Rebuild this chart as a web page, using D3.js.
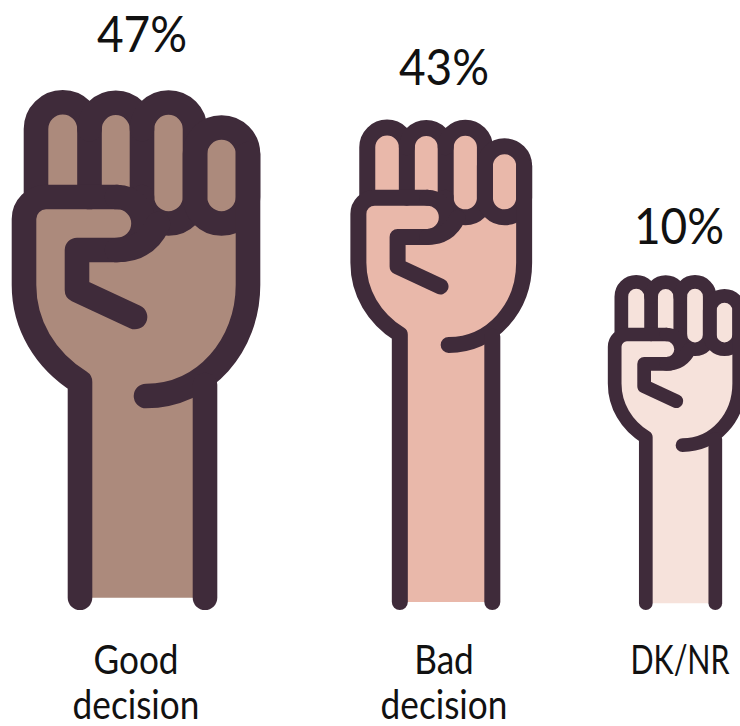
<!DOCTYPE html>
<html>
<head>
<meta charset="utf-8">
<script src="https://cdn.jsdelivr.net/npm/d3@7"></script>
<style>
  html, body { margin: 0; padding: 0; background: #fff; }
  svg { display: block; }
  text { font-family: Lato, "Open Sans", sans-serif; fill: #111; }
</style>
</head>
<body>
<div id="chart"></div>
<script>
// values
const categories = ["Good decision", "Bad decision", "DK/NR"];
const shares = [47, 43, 10];
const shareLabels = ["47%", "43%", "10%"];
const labelLines = [["Good", "decision"], ["Bad", "decision"], ["DK/NR"]];

const width = 740, height = 726;
const ink = "#3f2b3a";
const armBottom = 610; // outer end of the round caps

const svg = d3.select("#chart").append("svg")
  .attr("width", width)
  .attr("height", height);

// pictogram scales, not proportional in the original so they are piecewise
const topY = d3.scaleLinear().domain([10, 43, 47]).range([275, 118.5, 90]);
const size = d3.scaleLinear().domain([10, 43, 47]).range([0.556, 0.74, 1]);
const strokePx = d3.scaleLinear().domain([10, 43, 47]).range([13.7, 16, 24.6]);
const leftX = d3.scaleOrdinal().domain(categories).range([12, 349.5, 608]);
const labelX = d3.scaleOrdinal().domain(categories).range([136, 444, 680]);
const labelSqueeze = d3.scaleOrdinal().domain(categories).range([0.88, 0.88, 0.76]);
const valueX = d3.scaleOrdinal().domain(categories).range([142, 444, 679]);
const color = d3.scaleOrdinal().domain(categories).range(["#ac8a7c", "#e9b8aa", "#f6e2db"]);

// the fist is drawn once at full size, its left/top outer edge sits at (12, 90)
function drawFist(g, armEnd, fill, lineWidth) {
  // skin
  g.append("path")
    .attr("fill", fill)
    .attr("d", "M36 129 A27 27 0 0 1 89.5 129 A26.5 26.5 0 0 1 142 129 A26.5 26.5 0 0 1 195 129 "
      + "V154 A26.5 26.5 0 0 1 248 154 V285 C248 340 225 360 205 376 V" + armEnd + " H80 V382 "
      + "C45 360 24 325 24 285 V219 A22 22 0 0 1 36 197 Z");

  const lines = g.append("g")
    .attr("fill", "none")
    .attr("stroke", ink)
    .attr("stroke-width", lineWidth)
    .attr("stroke-linecap", "round")
    .attr("stroke-linejoin", "round");

  const paths = [
    // fingers
    "M36 197 V129 A26.75 26.75 0 0 1 89.5 129 V197",
    "M89.5 129 A26.25 26.25 0 0 1 142 129 V197",
    "M142 129 A26.5 26.5 0 0 1 195 129 V197 A26.5 26.5 0 0 1 142 197",
    "M195 154 A26.5 26.5 0 0 1 248 154 V197 A26.5 26.5 0 0 1 195 197 Z",
    // palm outer edge and left arm
    "M117 197 H46 A22 22 0 0 0 24 219 V285 C24 325 45 360 80 382 V" + armEnd,
    // right side of the hand and cuff curve
    "M248 154 V285 C248 345 205 396 146 396",
    "M205 385 V" + armEnd,
    // thumb
    "M117 197 A26.5 26.5 0 0 1 117 250 H77 V290 L135 317",
    "M117 250 Q146 250 158 224"
  ];
  paths.forEach(d => lines.append("path").attr("d", d));
}

categories.forEach((c, i) => {
  const s = size(shares[i]);
  const w = strokePx(shares[i]);
  const tx = leftX(c) - 12 * s;
  const ty = topY(shares[i]) - 90 * s;
  const g = svg.append("g").attr("transform", `translate(${tx},${ty}) scale(${s})`);
  drawFist(g, (armBottom - w / 2 - ty) / s, color(c), w / s);
});

// value labels
const valueBase = d3.scaleLinear().domain([10, 43, 47]).range([244, 85, 52]);
svg.selectAll("text.value")
  .data(categories)
  .enter().append("text")
  .attr("class", "value")
  .attr("text-anchor", "middle")
  .attr("font-size", 50)
  .attr("transform", (c, i) => `translate(${valueX(c)},${valueBase(shares[i])}) scale(0.92,1)`)
  .text((c, i) => shareLabels[i]);

// category labels
categories.forEach((c, i) => {
  labelLines[i].forEach((line, j) => {
    svg.append("text")
      .attr("text-anchor", "middle")
      .attr("font-size", 40)
      .attr("transform", `translate(${labelX(c)},${674 + j * 44.5}) scale(${labelSqueeze(c)},1)`)
      .text(line);
  });
});
</script>
</body>
</html>
